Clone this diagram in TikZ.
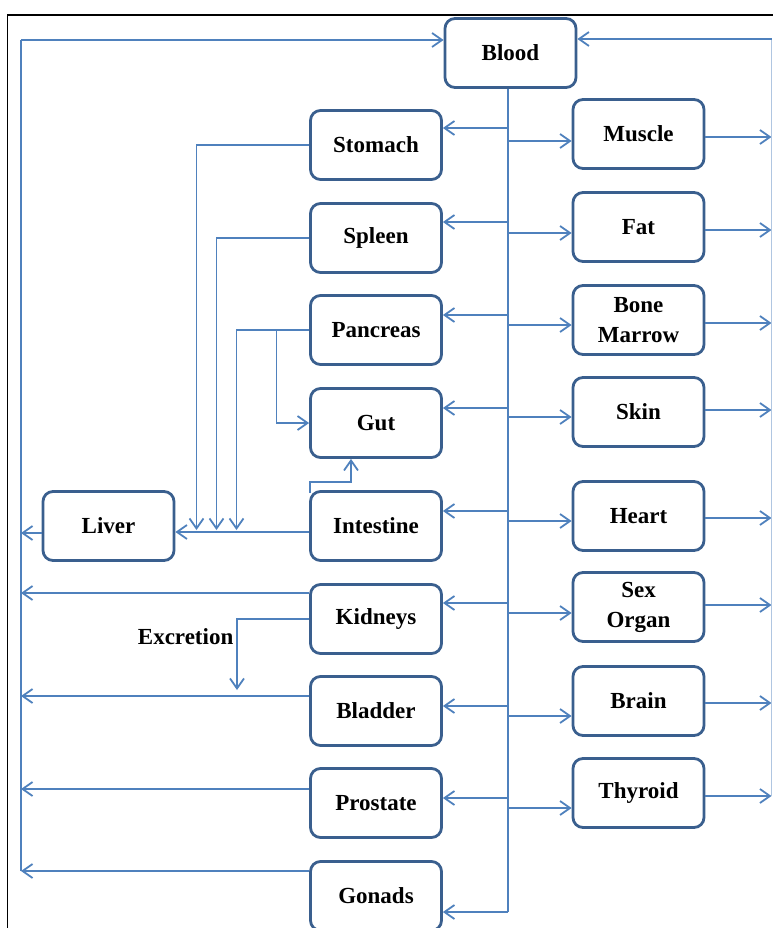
\documentclass[tikz,border=0pt]{standalone}
\usepackage{fontspec}
\setmainfont{Liberation Serif}
\usetikzlibrary{arrows.meta}
\definecolor{linkblue}{HTML}{4F81BD}
\definecolor{boxblue}{HTML}{3A5F8E}
\begin{document}
\begin{tikzpicture}[x=1pt,y=-1pt,
  organ/.style={draw=boxblue, line width=2.8pt, rounded corners=10pt,
    minimum width=131pt, minimum height=69pt, align=center, inner sep=0pt,
    fill=white, font=\fontsize{23}{30}\selectfont\bfseries},
  tag/.style={inner sep=0pt, font=\fontsize{23}{30}\selectfont\bfseries},
  link/.style={draw=linkblue, line width=1.8pt},
  arr/.style={link, -{Straight Barb[length=10pt,width=14pt,line width=1.8pt]}},
]
\useasboundingbox (0,0) rectangle (772,928);

% outer frame
\draw[line width=1.5pt] (7.5,930) -- (7.5,15) -- (775,15);

% organs
\node[organ] (blood)     at (510.5,53)  {Blood};
\node[organ] (stomach)   at (376,145)   {Stomach};
\node[organ] (spleen)    at (376,238)   {Spleen};
\node[organ] (pancreas)  at (376,330)   {Pancreas};
\node[organ] (gut)       at (376,423)   {Gut};
\node[organ] (intestine) at (376,526)   {Intestine};
\node[organ] (kidneys)   at (376,619)   {Kidneys};
\node[organ] (bladder)   at (376,711)   {Bladder};
\node[organ] (prostate)  at (376,803)   {Prostate};
\node[organ] (gonads)    at (376,896)   {Gonads};
\node[organ] (liver)     at (108.5,526) {Liver};

\node[organ] (muscle)  at (638.5,134) {Muscle};
\node[organ] (fat)     at (638.5,227) {Fat};
\node[organ] (bone)    at (638.5,320) {Bone\\Marrow};
\node[organ] (skin)    at (638.5,412) {Skin};
\node[organ] (heart)   at (638.5,516) {Heart};
\node[organ] (sex)     at (638.5,607) {Sex\\Organ};
\node[organ] (brain)   at (638.5,701) {Brain};
\node[organ] (thyroid) at (638.5,793) {Thyroid};

% bus lines
\coordinate (bus)  at (508,0);
\coordinate (lbus) at (21,0);
\coordinate (rbus) at (771.5,0);

% blood distribution trunk
\draw[link] (blood.south -| bus) -- ([yshift=-16pt]gonads.east -| bus);
\draw[arr] ([yshift=-16pt]gonads.east -| bus) -- ([yshift=-16pt]gonads.east);

\foreach \n/\s in {stomach/17, spleen/16, pancreas/15, gut/15, intestine/15,
                   kidneys/16, bladder/5, prostate/5}
  \draw[arr] ([yshift=\s pt]\n.east -| bus) -- ([yshift=\s pt]\n.east);

\foreach \n/\s in {muscle/-7, fat/-6, bone/-5, skin/-5, heart/-5,
                   sex/-6, brain/-15, thyroid/-15}
  \draw[arr] ([yshift=\s pt]\n.west -| bus) -- ([yshift=\s pt]\n.west);

% right-hand return to blood
\foreach \n/\s in {muscle/-3, fat/-3, bone/-3, skin/2, heart/-2,
                   sex/2, brain/-2, thyroid/-3}
  \draw[arr] ([yshift=\s pt]\n.east) -- ([yshift=\s pt]\n.east -| rbus);
\path ([yshift=14pt]blood.east) coordinate (bE)
      ([yshift=13pt]blood.west) coordinate (bW);
\draw[link, draw=linkblue!45] ([yshift=-3pt]thyroid.east -| rbus) -- (bE -| rbus);
\draw[arr] (bE -| rbus) -- (bE);

% left-hand return to blood
\path ([yshift=25pt]gonads.west) coordinate (gW);
\draw[link] (gW -| lbus) -- (bW -| lbus);
\draw[arr] (bW -| lbus) -- (bW);
\draw[arr] ([yshift=-7pt]liver.west) -- ([yshift=-7pt]liver.west -| lbus);
\foreach \n/\s in {kidneys/26, bladder/15, prostate/14, gonads/25}
  \draw[arr] ([yshift=\s pt]\n.west) -- ([yshift=\s pt]\n.west -| lbus);

% portal flow into the liver
\path ([yshift=-6pt]liver.east) coordinate (lvl);
\draw[arr] ([yshift=-6pt]intestine.west) -- (lvl);
\coordinate (xs) at (196.5,0);
\coordinate (xp) at (216.5,0);
\coordinate (xq) at (236.5,0);
\coordinate (xg) at (276.5,0);
\draw[arr] (stomach.west)  -| ([yshift=2pt]lvl -| xs);
\draw[arr] (spleen.west)   -| ([yshift=2pt]lvl -| xp);
\draw[arr] (pancreas.west) -| ([yshift=2pt]lvl -| xq);
\draw[arr] (pancreas.west -| xg) |- (gut.west);
\draw[arr] ([xshift=1pt,yshift=-3pt]intestine.north west) -- ++(0,-11)
  -| ([xshift=-25pt]gut.south);

% excretion
\coordinate (xe) at (237,0);
\path ([yshift=-71pt]kidneys.west -| xe) coordinate (exEnd);
\draw[arr] (kidneys.west) -| (exEnd);
\node[tag, anchor=east] (excretion) at (233.5,637) {Excretion};
\end{tikzpicture}
\end{document}
